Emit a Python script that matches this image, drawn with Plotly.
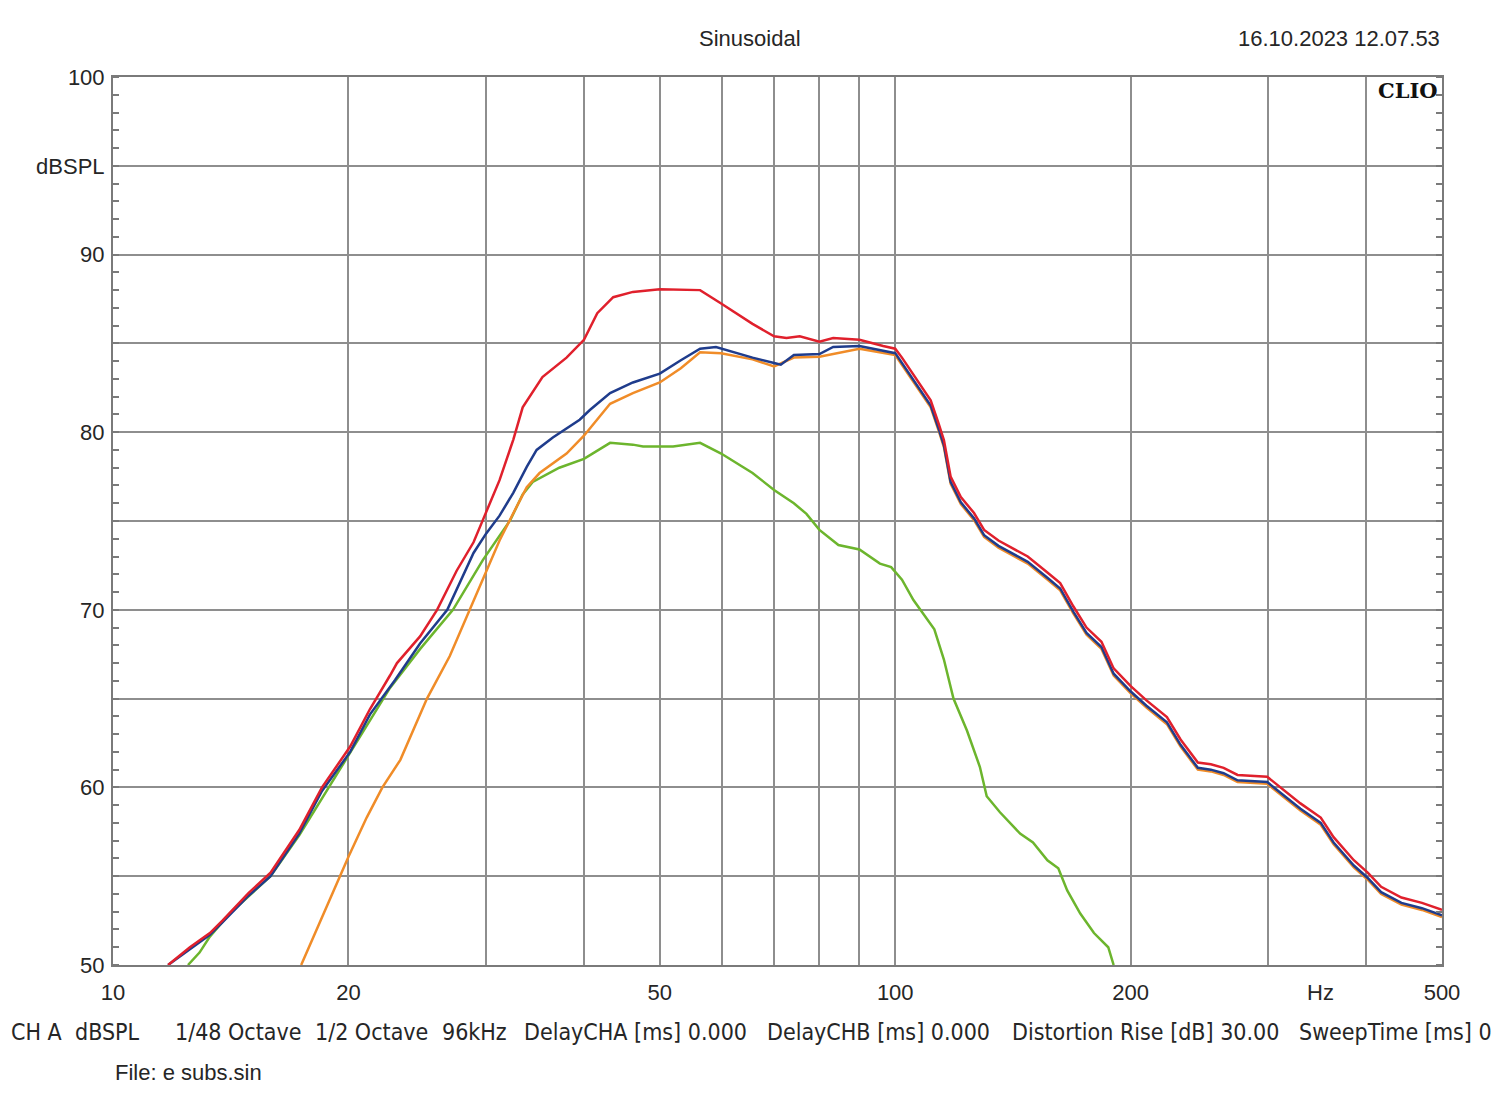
import plotly.graph_objects as go

# ---- data (Hz, dBSPL) ----
red_f = [11.76, 12.54, 13.3, 13.8, 14.9, 15.9, 17.3, 18.5, 20.1, 21.3, 22.6, 23.07, 24.69, 25.96,
         27.5, 28.9, 29.7, 31.2, 32.5, 33.4, 35.4, 38.0, 40, 41.6, 43.6, 46.2, 50, 56.3, 59.9,
         65.7, 70, 72.6, 75.5, 80, 83.3, 90, 96.5, 100, 102, 106.7, 111, 113.6, 115.4, 117.7,
         121.3, 126.1, 129.9, 135.5, 141.8, 147.7, 156.5, 162.5, 168.9, 175.6, 183.5, 190.2,
         200, 209.5, 222.5, 231.6, 243.7, 253.2, 262.9, 273.9, 298.9, 310.6, 329.6, 349.9,
         363.4, 385.7, 401.8, 418, 443.7, 471.3, 500]
red_db = [50, 51.0, 51.8, 52.5, 54.05, 55.2, 57.6, 60.0, 62.3, 64.4, 66.3, 67.0, 68.5, 70.0,
          72.2, 73.8, 75.05, 77.3, 79.6, 81.4, 83.1, 84.2, 85.2, 86.7, 87.6, 87.9, 88.05, 88.0, 87.25,
          86.1, 85.4, 85.3, 85.4, 85.1, 85.3, 85.2, 84.85, 84.7, 84.2, 82.9, 81.8, 80.5, 79.56, 77.5,
          76.35, 75.45, 74.5, 73.9, 73.4, 73.0, 72.1, 71.5, 70.2, 69.0, 68.2, 66.7,
          65.7, 64.9, 63.96, 62.7, 61.4, 61.3, 61.1, 60.7, 60.6, 60.0, 59.1, 58.3,
          57.2, 55.9, 55.2, 54.4, 53.8, 53.5, 53.1]

blue_f = [11.76, 12.54, 13.3, 13.8, 14.9, 15.9, 17.3, 18.5, 20.1, 21.3, 22.94, 24.69, 26.75,
          28.9, 30.0, 31.2, 32.5, 33.8, 34.8, 36.5, 39.5, 40.7, 43.2, 46.2, 50, 53.2, 56.3, 59,
          65.7, 70, 71.4, 74.2, 80, 83.3, 90, 100, 102, 106.7, 111, 113.6, 115.4, 117.7,
          121.3, 126.1, 129.9, 135.5, 141.8, 147.7, 156.5, 162.5, 168.9, 175.6, 183.5, 190.2,
          200, 209.5, 222.5, 231.6, 243.7, 253.2, 262.9, 273.9, 298.9, 310.6, 329.6, 349.9,
          363.4, 385.7, 401.8, 418, 443.7, 471.3, 500]
blue_db = [50, 50.9, 51.7, 52.4, 53.9, 55.0, 57.4, 59.8, 62.0, 64.1, 66.05, 68.1, 70.0,
           73.2, 74.3, 75.3, 76.6, 78.05, 79.0, 79.7, 80.7, 81.25, 82.2, 82.8, 83.3, 84.05, 84.7, 84.8,
           84.2, 83.9, 83.8, 84.35, 84.4, 84.8, 84.85, 84.45, 83.9, 82.6, 81.5, 80.2, 79.26, 77.2,
           76.05, 75.15, 74.2, 73.6, 73.1, 72.7, 71.8, 71.2, 69.9, 68.7, 67.9, 66.4,
           65.4, 64.6, 63.66, 62.4, 61.1, 61.0, 60.8, 60.4, 60.3, 59.7, 58.8, 58.0,
           56.9, 55.6, 54.9, 54.1, 53.5, 53.2, 52.8]

orange_f = [17.4, 18.5, 20, 21.1, 22.1, 23.3, 25.2, 26.95, 28.6, 29.7, 31.2, 32.5, 33.8, 35.1,
            38.0, 40, 43.2, 46.2, 50, 53.2, 56.3, 59.9, 65.7, 70, 74.2, 80, 90, 100,
            102, 106.7, 111, 113.6, 115.4, 117.7, 121.3, 126.1, 129.9, 135.5, 141.8, 147.7,
            156.5, 162.5, 168.9, 175.6, 183.5, 190.2, 200, 209.5, 222.5, 231.6, 243.7, 253.2,
            262.9, 273.9, 298.9, 310.6, 329.6, 349.9, 363.4, 385.7, 401.8, 418, 443.7, 471.3, 500]
orange_db = [50, 52.7, 56.1, 58.3, 60.0, 61.55, 65.0, 67.4, 70.0, 71.7, 73.9, 75.45, 76.9, 77.7,
             78.8, 79.8, 81.6, 82.2, 82.8, 83.6, 84.5, 84.45, 84.1, 83.7, 84.2, 84.25, 84.7, 84.35,
             83.8, 82.5, 81.4, 80.1, 79.16, 77.1, 75.95, 75.05, 74.1, 73.5, 73.0, 72.6,
             71.7, 71.1, 69.8, 68.6, 67.8, 66.3, 65.3, 64.5, 63.56, 62.3, 61.0, 60.9,
             60.7, 60.3, 60.2, 59.6, 58.7, 57.9, 56.8, 55.5, 54.8, 54.0, 53.4, 53.1, 52.7]

green_f = [12.47, 12.9, 13.3, 14.1, 15.9, 17.3, 20, 22.6, 24.7, 27.2, 29.7, 32.2, 33.4, 34.4,
           37.2, 40, 43.2, 46.2, 47.6, 52.0, 56.3, 59.9, 65.7, 70, 74.2, 77, 80, 84.6, 90, 95.6,
           98.8, 102, 105.5, 107.6, 112.2, 115.4, 118.7, 123.5, 128.3, 130.9, 136.1, 144.4, 150,
           156.5, 161.6, 165.9, 172.4, 179.5, 187.2, 190.2]
green_db = [50, 50.7, 51.6, 52.9, 55.0, 57.3, 61.8, 65.6, 67.8, 70.0, 72.8, 75.05, 76.5, 77.2,
            78.0, 78.5, 79.4, 79.3, 79.2, 79.2, 79.4, 78.8, 77.7, 76.75, 76.0, 75.4, 74.5, 73.65, 73.4, 72.6,
            72.4, 71.7, 70.55, 70.0, 68.9, 67.2, 65.0, 63.2, 61.15, 59.5, 58.6, 57.4, 56.9,
            55.9, 55.45, 54.2, 52.9, 51.8, 51.0, 50]

x_grid = [10, 20, 30, 40, 50, 60, 70, 80, 90, 100, 200, 300, 400, 500]
x_text = ["10", "20", "", "", "50", "", "", "", "", "100", "200", "", "", "500"]
y_grid = [50, 55, 60, 65, 70, 75, 80, 85, 90, 95, 100]
y_text = ["50", "", "60", "", "70", "", "80", "", "90", "dBSPL", "100"]

bottom_items = [
    (9, "CH A"), (73, "dBSPL"), (173, "1/48 Octave"), (313, "1/2 Octave"), (440, "96kHz"),
    (522, "DelayCHA [ms] 0.000"), (765, "DelayCHB [ms] 0.000"),
    (1010, "Distortion Rise [dB] 30.00"), (1297, "SweepTime [ms] 0.000"),
]

# page body adds 8px, so the figure margins are pulled in by 8
W, H = 1500, 1110
PL, PR, PT, PB = 113, 1442, 77, 965          # plot box on screen
pw, ph = PR - PL, PB - PT
L, T = PL - 8, PT - 8
R, B = W - L - pw, H - T - ph
GRID = "#8e8e8e"
TXT = "#262626"
SANS = "Liberation Sans, Arial, sans-serif"
NARROW = "Liberation Sans Narrow, Arial Narrow, DejaVu Sans Condensed, sans-serif"


def px(x):
    return (x - PL) / pw


def py(y):
    return (PB - y) / ph


fig = go.Figure()
for f, db, col in [
    (green_f, green_db, "#6cb52d"),
    (orange_f, orange_db, "#f08c28"),
    (blue_f, blue_db, "#1f3c8c"),
    (red_f, red_db, "#e0202c"),
]:
    fig.add_trace(go.Scatter(x=f, y=db, mode="lines", line=dict(color=col, width=2.5),
                             showlegend=False, hoverinfo="skip"))

fig.update_xaxes(
    type="log", range=[1, 2.69897], tickvals=x_grid, ticktext=x_text,
    showgrid=True, gridcolor=GRID, gridwidth=1.5, zeroline=False,
    showline=True, linecolor="#7a7a7a", linewidth=2, mirror=True, ticks="",
    ticklabelstandoff=7, tickfont=dict(family=SANS, size=22, color=TXT),
)
fig.update_yaxes(
    range=[50, 100], tickvals=y_grid, ticktext=y_text,
    showgrid=True, gridcolor=GRID, gridwidth=1.5, zeroline=False,
    showline=True, linecolor="#7a7a7a", linewidth=2, mirror="ticks", ticks="",
    ticklabelstandoff=2, tickfont=dict(family=SANS, size=22, color=TXT),
    minor=dict(dtick=1, ticks="inside", ticklen=6, tickcolor="#7a7a7a", tickwidth=1.5,
               showgrid=False),
)

ann = [
    dict(x=px(750), y=py(38), text="Sinusoidal", font=dict(family=SANS, size=22, color=TXT)),
    dict(x=1, y=py(38), xanchor="right", text="16.10.2023 12.07.53",
         font=dict(family=SANS, size=22, color=TXT)),
    dict(x=px(1440), y=py(90), xanchor="right", text="<b>CLIO</b>",
         font=dict(family="DejaVu Serif, serif", size=21, color="#111111")),
    dict(x=px(1320), y=py(992), text="Hz", font=dict(family=SANS, size=22, color=TXT)),
    dict(x=0, y=py(1072), xanchor="left", text="File: e subs.sin",
         font=dict(family=SANS, size=22, color=TXT)),
]
for x0, t in bottom_items:
    ann.append(dict(x=px(x0), y=py(1032), xanchor="left", text=t,
                    font=dict(family=NARROW, size=23, color=TXT)))
for a in ann:
    a.setdefault("xanchor", "center")
    fig.add_annotation(xref="paper", yref="paper", yanchor="middle", showarrow=False, **a)

fig.update_layout(
    width=W, height=H, margin=dict(l=L, r=R, t=T, b=B),
    plot_bgcolor="white", paper_bgcolor="white",
)
fig.write_html("out.html")
